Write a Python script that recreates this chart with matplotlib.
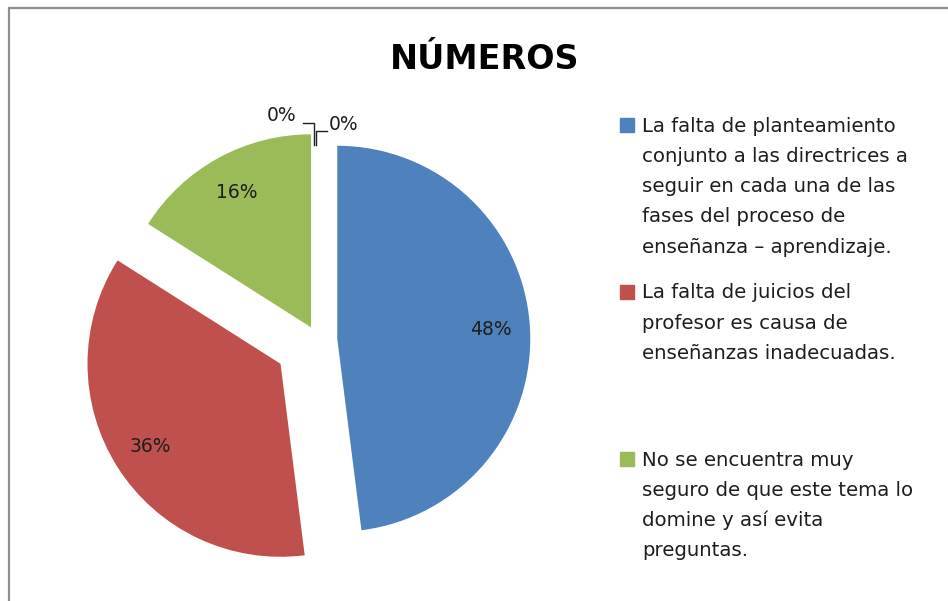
import matplotlib
matplotlib.use("Agg")
import matplotlib.pyplot as plt
from matplotlib.patches import Rectangle

# chart data
title = "NÚMEROS"
shares = [48, 36, 16, 0, 0]
labels = [
    "La falta de planteamiento\nconjunto a las directrices a\nseguir en cada una de las\nfases del proceso de\nenseñanza – aprendizaje.",
    "La falta de juicios del\nprofesor es causa de\nenseñanzas inadecuadas.",
    "No se encuentra muy\nseguro de que este tema lo\ndomine y así evita\npreguntas.",
]
colors = ["#4F81BD", "#C0504D", "#9BBB59", "#8064A2", "#4BACC6"]
explode = [0.10, 0.23, 0.075, 0, 0]

W, H = 948, 601
text_color = "#1e1e1e"


def fx(px):
    return px / W


def fy(py):
    return 1 - py / H


fig = plt.figure(figsize=(W / 100, H / 100), dpi=100)

# grey frame (only top and left edges visible in the crop)
fig.add_artist(Rectangle((fx(9), -0.2), 1.5, fy(8) + 0.2, fill=False,
                         edgecolor="#8e8e8e", lw=1.6, transform=fig.transFigure))

# pie axes: centre at pixel (318, 340), radius 193 px
r_px = 193
ax = fig.add_axes([fx(318 - 1.5 * r_px), fy(340 + 1.3 * r_px),
                   3.0 * r_px / W, 2.6 * r_px / H])
wedges, texts, autotexts = ax.pie(
    shares, colors=colors, explode=explode, startangle=90, counterclock=False,
    autopct=lambda p: f"{p:.0f}%" if p > 0.5 else "", pctdistance=0.8,
    textprops=dict(fontsize=13.5, color=text_color))
ax.set_xlim(-1.5, 1.5)
ax.set_ylim(-1.3, 1.3)
ax.set_aspect("auto")

# labels for the two empty slices, with leader lines to the top of the pie
s = 1 / r_px
tx, ty = wedges[3].center[0], wedges[3].center[1] + 1
ax.text(tx - 36 * s, ty + 31 * s, f"{shares[3]}%", ha="center", va="center",
        fontsize=13.5, color=text_color)
ax.plot([tx - 15 * s, tx - 4 * s, tx - 4 * s],
        [ty + 24 * s, ty + 24 * s, ty + 2 * s], color=text_color, lw=1)
ax.text(tx + 26 * s, ty + 22 * s, f"{shares[4]}%", ha="center", va="center",
        fontsize=13.5, color=text_color)
ax.plot([tx + 9 * s, tx - 2 * s, tx - 2 * s],
        [ty + 16 * s, ty + 16 * s, ty + 2 * s], color=text_color, lw=1)

# title
fig.text(fx(485), fy(69), title, ha="center", va="baseline",
         fontsize=24, fontweight="bold", color="black")

# legend, one slot per entry
for i, (lab, col) in enumerate(zip(labels, colors)):
    y0 = 125 + i * 167
    fig.add_artist(Rectangle((fx(620), fy(y0 + 7)), 14 / W, 14 / H,
                             color=col, transform=fig.transFigure))
    for j, line in enumerate(lab.split("\n")):
        fig.text(fx(642), fy(y0 + 6.5 + j * 30.3), line, ha="left",
                 va="baseline", fontsize=14.2, color=text_color)

fig.savefig("out.png", dpi=100)
